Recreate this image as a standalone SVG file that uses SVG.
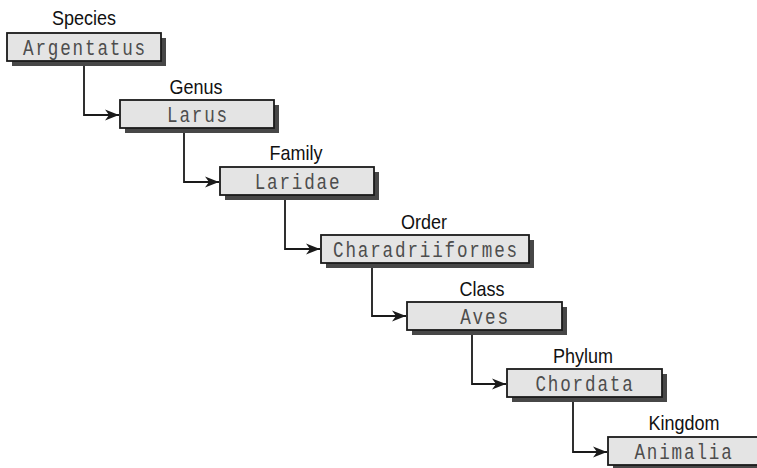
<svg xmlns="http://www.w3.org/2000/svg" width="757" height="468" viewBox="0 0 757 468">
<defs>
<style>
.shadow{fill:#474747}
.box{fill:#e4e4e4;stroke:#1a1a1a;stroke-width:1.8}
.val{font-family:"Liberation Mono","DejaVu Sans Mono",monospace;font-size:22px;fill:#4d4d4d;text-anchor:middle;letter-spacing:2.3px}
.lbl{font-family:"Liberation Sans",Arial,sans-serif;font-size:20px;fill:#111;text-anchor:middle}
.conn{fill:none;stroke:#1a1a1a;stroke-width:1.8}
</style>
<marker id="arr" markerWidth="16" markerHeight="14" refX="14" refY="7" orient="auto" markerUnits="userSpaceOnUse">
<path d="M0,1.5 L14,7 L0,12.5 L4,7 Z" fill="#1a1a1a"/>
</marker>
</defs>
<rect width="757" height="468" fill="#fff"/>
<g id="connectors">
<path class="conn" d="M84,61 V115 H119" marker-end="url(#arr)"/>
<path class="conn" d="M184,128 V182 H219" marker-end="url(#arr)"/>
<path class="conn" d="M285,195 V249 H320" marker-end="url(#arr)"/>
<path class="conn" d="M372,263 V316 H406" marker-end="url(#arr)"/>
<path class="conn" d="M472,330 V384 H506" marker-end="url(#arr)"/>
<path class="conn" d="M573,397 V452 H607" marker-end="url(#arr)"/>
</g>
<g id="species">
<rect class="shadow" x="12" y="38" width="154" height="28"/>
<rect class="box" x="7" y="33" width="154" height="28"/>
<text class="lbl" transform="translate(84,25) scale(0.9,1)">Species</text>
<text class="val" transform="translate(85,55) scale(0.8,1)">Argentatus</text>
</g>
<g id="genus">
<rect class="shadow" x="125" y="105" width="154" height="28"/>
<rect class="box" x="120" y="100" width="154" height="28"/>
<text class="lbl" transform="translate(196,94) scale(0.9,1)">Genus</text>
<text class="val" transform="translate(198,122) scale(0.8,1)">Larus</text>
</g>
<g id="family">
<rect class="shadow" x="225" y="172" width="154" height="28"/>
<rect class="box" x="220" y="167" width="154" height="28"/>
<text class="lbl" transform="translate(296,160) scale(0.9,1)">Family</text>
<text class="val" transform="translate(298,189) scale(0.8,1)">Laridae</text>
</g>
<g id="order">
<rect class="shadow" x="326" y="240" width="208" height="28"/>
<rect class="box" x="321" y="235" width="208" height="28"/>
<text class="lbl" transform="translate(424,229) scale(0.9,1)">Order</text>
<text class="val" transform="translate(426,257) scale(0.8,1)">Charadriiformes</text>
</g>
<g id="class">
<rect class="shadow" x="412" y="307" width="155" height="28"/>
<rect class="box" x="407" y="302" width="155" height="28"/>
<text class="lbl" transform="translate(482,296) scale(0.9,1)">Class</text>
<text class="val" transform="translate(485,324) scale(0.8,1)">Aves</text>
</g>
<g id="phylum">
<rect class="shadow" x="512" y="374" width="155" height="28"/>
<rect class="box" x="507" y="369" width="155" height="28"/>
<text class="lbl" transform="translate(583,363) scale(0.9,1)">Phylum</text>
<text class="val" transform="translate(585,391) scale(0.8,1)">Chordata</text>
</g>
<g id="kingdom">
<rect class="shadow" x="613" y="442" width="154" height="28"/>
<rect class="box" x="608" y="437" width="154" height="28"/>
<text class="lbl" transform="translate(684,430) scale(0.9,1)">Kingdom</text>
<text class="val" transform="translate(684,459) scale(0.8,1)">Animalia</text>
</g>
</svg>
